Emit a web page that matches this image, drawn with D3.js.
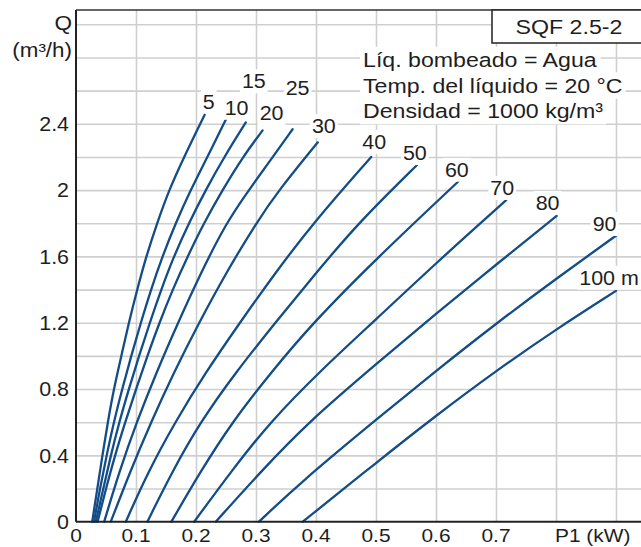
<!DOCTYPE html>
<html><head><meta charset="utf-8">
<script src="https://cdn.jsdelivr.net/npm/d3@7/dist/d3.min.js"></script>
<style>
body{margin:0;background:#fff}
svg{display:block}
text{font-family:"Liberation Sans",Arial,Helvetica,sans-serif;fill:#1e1e1e}
</style>
</head><body>
<svg id="chart" width="641" height="547"></svg>
<script>
// ---- data (P1 in kW, Q in m3/h) ----
const heads = [5,10,15,20,25,30,40,50,60,70,80,90,100];
const headLabels = ["5","10","15","20","25","30","40","50","60","70","80","90","100 m"];
const curve5   = [[0.027,0],[0.0356,0.2],[0.044,0.4],[0.053,0.6],[0.063,0.8],[0.0756,1.0],[0.088,1.2],[0.102,1.4],[0.117,1.6],[0.135,1.8],[0.155,2.0],[0.18,2.2],[0.2145,2.455]];
const curve10  = [[0.030,0],[0.04,0.2],[0.051,0.4],[0.063,0.6],[0.077,0.8],[0.092,1.0],[0.108,1.2],[0.125,1.4],[0.144,1.6],[0.166,1.8],[0.191,2.0],[0.219,2.2],[0.251,2.435]];
const curve15  = [[0.033,0],[0.0456,0.2],[0.058,0.4],[0.072,0.6],[0.088,0.8],[0.105,1.0],[0.123,1.2],[0.142,1.4],[0.163,1.6],[0.188,1.8],[0.216,2.0],[0.247,2.2],[0.283,2.408]];
const curve20  = [[0.036,0],[0.05,0.2],[0.065,0.4],[0.082,0.6],[0.1,0.8],[0.119,1.0],[0.139,1.2],[0.161,1.4],[0.186,1.6],[0.213,1.8],[0.244,2.0],[0.278,2.2],[0.311,2.36]];
const curve25  = [[0.047,0],[0.072,0.3],[0.101,0.6],[0.134,0.9],[0.17,1.2],[0.208,1.5],[0.25,1.8],[0.288,2.0],[0.328,2.2],[0.361,2.367]];
const curve30  = [[0.058,0],[0.09,0.3],[0.125,0.6],[0.163,0.9],[0.205,1.2],[0.25,1.5],[0.3,1.8],[0.338,2.0],[0.403,2.288]];
const curve40  = [[0.083,0],[0.12,0.3],[0.165,0.6],[0.216,0.9],[0.273,1.2],[0.332,1.5],[0.395,1.8],[0.492,2.2]];
const curve50  = [[0.119,0],[0.16,0.3],[0.207,0.6],[0.266,0.9],[0.332,1.2],[0.4,1.5],[0.47,1.8],[0.568,2.15]];
const curve60  = [[0.159,0],[0.207,0.3],[0.26,0.6],[0.325,0.9],[0.395,1.2],[0.5,1.585],[0.638,2.055]];
const curve70  = [[0.197,0],[0.26,0.31],[0.323,0.6],[0.41,0.92],[0.5,1.22],[0.6,1.56],[0.717,1.939]];
const curve80  = [[0.233,0],[0.31,0.31],[0.387,0.6],[0.5,0.95],[0.6,1.255],[0.7,1.55],[0.801,1.844]];
const curve90  = [[0.305,0],[0.372,0.23],[0.5,0.615],[0.6,0.91],[0.7,1.195],[0.8,1.465],[0.901,1.728]];
const curve100 = [[0.378,0],[0.5,0.355],[0.6,0.64],[0.7,0.91],[0.8,1.16],[0.9,1.392]];
const curves = [curve5,curve10,curve15,curve20,curve25,curve30,curve40,curve50,curve60,curve70,curve80,curve90,curve100];

const xTickValues = [0,0.1,0.2,0.3,0.4,0.5,0.6,0.7];
const xTickLabels = ["0","0.1","0.2","0.3","0.4","0.5","0.6","0.7"];
const yTickValues = [0,0.4,0.8,1.2,1.6,2,2.4];
const yTickLabels = ["0","0.4","0.8","1.2","1.6","2","2.4"];
const xGridValues = [0.1,0.2,0.3,0.4,0.5,0.6,0.7,0.8,0.9];
const yGridValues = [0.2,0.4,0.6,0.8,1.0,1.2,1.4,1.6,1.8,2.0,2.2,2.4,2.6,2.8,3.0];
const xAxisTitle = "P1 (kW)";
const yAxisTitle = ["Q","(m³/h)"];
const modelName = "SQF 2.5-2";
const infoLines = ["Líq. bombeado = Agua","Temp. del líquido = 20 °C","Densidad = 1000 kg/m³"];

// ---- layout ----
const W = 641, H = 547;
const plotLeft = 76, plotTop = 10, plotBottom = 521.7;
const x = d3.scaleLinear().domain([0,1]).range([plotLeft, plotLeft+600]);
const y = d3.scaleLinear().domain([0,3]).range([plotBottom, plotBottom-497.4]);
const svg = d3.select("#chart");
const lineColor = "#124d88";

function txt(g, px, py, s, anchor, size, sx){
  return g.append("text")
    .attr("transform", `translate(${px},${py}) scale(${sx},1)`)
    .attr("text-anchor", anchor||"start")
    .attr("font-size", size||20)
    .text(s);
}
function backRect(g, t, pad){
  const b = t.node().getBoundingClientRect();
  const sb = svg.node().getBoundingClientRect();
  g.insert("rect", () => t.node())
    .attr("x", b.left - sb.left - pad).attr("y", b.top - sb.top - pad/2)
    .attr("width", b.width + 2*pad).attr("height", b.height + pad)
    .attr("fill", "#fff");
}

// grid
const grid = svg.append("g");
grid.append("g").attr("transform",`translate(0,${plotBottom})`)
  .call(d3.axisBottom(x).tickValues(xGridValues).tickSize(-(plotBottom-plotTop)).tickFormat(""))
  .call(g=>g.select(".domain").remove())
  .call(g=>g.selectAll("line").attr("stroke","#cfcfcf").attr("stroke-width",1.6));
grid.append("g").attr("transform",`translate(${plotLeft},0)`)
  .call(d3.axisLeft(y).tickValues(yGridValues).tickSize(-(W-plotLeft)).tickFormat(""))
  .call(g=>g.select(".domain").remove())
  .call(g=>g.selectAll("line").attr("stroke","#cfcfcf").attr("stroke-width",1.6));

// info text with white backgrounds
const info = svg.append("g");
infoLines.forEach((s,i)=>{
  const t = txt(info, 363, 67 + i*25.6, s, "start", 20.5, 1.13);
  backRect(info, t, 3);
});

// curves
const line = d3.line().x(d=>x(d[0])).y(d=>y(d[1])).curve(d3.curveBasis);
svg.append("g").selectAll("path").data(curves).join("path")
  .attr("d", line).attr("fill","none").attr("stroke",lineColor).attr("stroke-width",2.3)
  .attr("stroke-linecap","round");

// curve labels (offset from curve end, px)
const labelOffsets = [[4,-13],[10,-10],[8,-41],[9,-17],[5,-41],[6,-16],[3,-15],[-2,-12],[-2,-11],[-4,-12],[-9,-13],[-12,-11],[-7,-13]];
const lab = svg.append("g");
curves.forEach((c,i)=>{
  const e = c[c.length-1];
  const cx = x(e[0]) + labelOffsets[i][0];
  const cy = y(e[1]) + labelOffsets[i][1];
  const t = txt(lab, cx, cy + 7, headLabels[i], "middle", 19.5, 1.1);
  backRect(lab, t, 2);
});

// axes lines
svg.append("line").attr("x1",plotLeft).attr("x2",W).attr("y1",plotTop).attr("y2",plotTop).attr("stroke","#333").attr("stroke-width",1.6);
svg.append("line").attr("x1",plotLeft).attr("x2",plotLeft).attr("y1",plotTop).attr("y2",plotBottom).attr("stroke","#222").attr("stroke-width",2);
svg.append("line").attr("x1",plotLeft).attr("x2",W).attr("y1",plotBottom).attr("y2",plotBottom).attr("stroke","#222").attr("stroke-width",2);

// model box
svg.append("rect").attr("x",492).attr("y",plotTop).attr("width",W-492+2).attr("height",33)
  .attr("fill","#fff").attr("stroke","#222").attr("stroke-width",1.5);
txt(svg, 569, 33.5, modelName, "middle", 20.5, 1.13);

// tick labels
const ax = svg.append("g");
xTickValues.forEach((v,i)=> txt(ax, x(v), 542, xTickLabels[i], "middle", 19, 1.1));
txt(ax, 555, 542, xAxisTitle, "start", 19, 1.1);
yTickValues.forEach((v,i)=> txt(ax, 69, y(v)+7.3, yTickLabels[i], "end", 20, 1.07));
txt(ax, 72, 30, yAxisTitle[0], "end", 20.5, 1.1);
txt(ax, 72, 57, yAxisTitle[1], "end", 20, 1.12);
</script>
</body></html>
